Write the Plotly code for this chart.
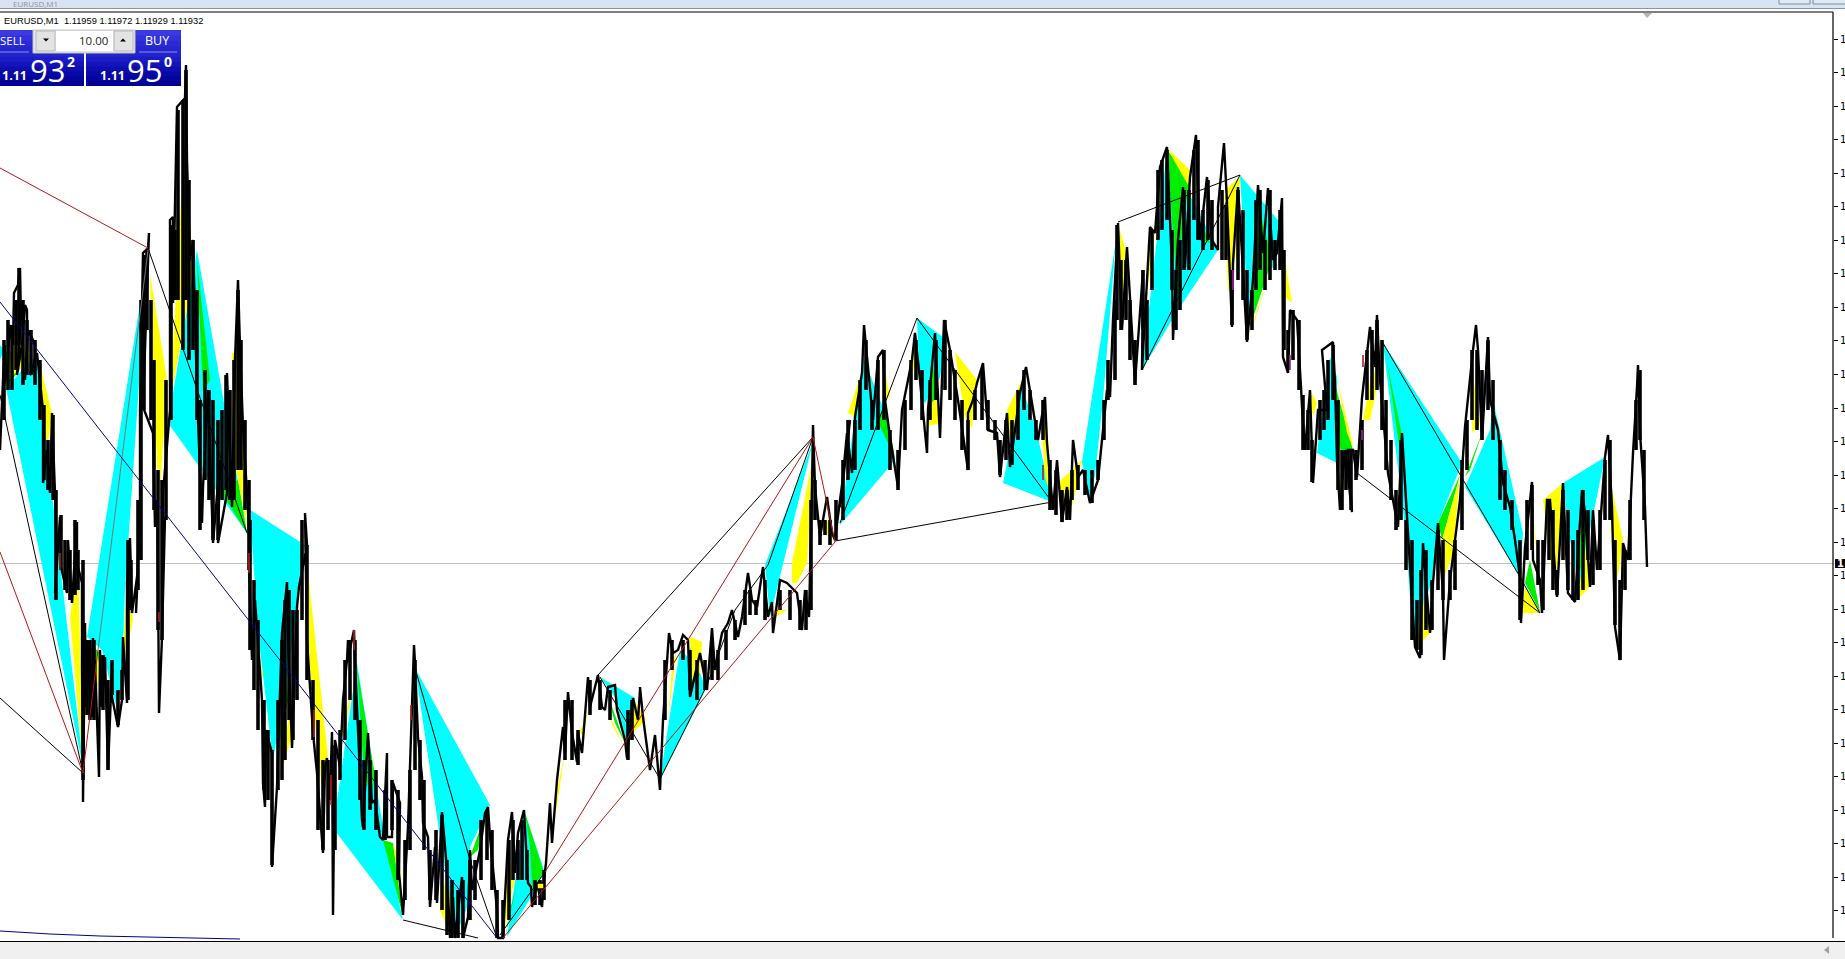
import plotly.graph_objects as go

# Everything in the chart's screen-scale units.
price_path = [
(0,450),(3,380),(5,345),(4,385),(7,370),(10,325),(13,345),(14,293),(18,285),(20,268),(21,320),(17,375),(22,345),(25,305),(27,310),(27,350),(25,380),(28,330),(33,340),(35,345),(35,370),(30,375),(37,353),(43,410),(43,483),(47,450),(50,493),(52,413),(55,493),(57,560),
(55,593),(60,517),(61,567),(67,593),(68,540),(72,603),(77,522),(77,553),(78,567),(82,583),(82,667),(83,773),(83,802),(85,623),(86,707),(88,640),(91,717),(93,638),(93,717),(95,660),(99,777),(100,650),(102,707),(105,657),(108,770),(112,667),(112,697),(118,727),(122,700),(123,637),(127,703),(127,583),(130,538),(132,613),(138,570),(136,613),(140,500),(140,410),(143,253),(148,248),(149,233),(143,407),(153,433),(155,527),(157,500),(158,570),(159,713),(162,637),(165,517),(163,560),(163,493),(170,410),(170,220),(173,217),(173,303),(177,107),(185,98),(186,65),(187,160),(190,260),(193,240),(197,393),(202,523),(203,487),(208,390),(213,543),(220,460),(218,543),(227,493),(227,373),(232,507),(235,360),(238,280),(240,347),(243,427),(248,510),(250,560),
(249,567),(252,660),(255,600),(262,700),(263,783),(265,807),(266,730),(272,753),(272,867),(277,787),(280,693),(282,633),(287,582),(288,633),(292,748),(297,607),(299,587),(307,545),(305,513),(307,640),(310,687),(313,733),(317,773),(323,853),(325,767),(327,758),(330,800),(332,732),(333,915),(335,740),(340,767),(343,700),(347,660),(348,640),
(347,663),(354,630),(355,663),(357,707),(362,820),(363,827),(368,733),(372,803),(375,800),(380,837),(383,840),(387,753),(387,837),(392,837),(393,783),(400,803),(399,873),(403,915),(408,827),(414,645),(415,663),(418,737),(422,777),(423,823),(428,837),(430,907),(435,847),(437,903),(442,812),(447,870),(450,938),(453,897),(455,938),(462,877),(463,938),(468,917),(470,850),(472,890),(480,850),(485,813),(488,807),(490,837),(497,910),(498,938),(503,938),(505,897),(508,840),(512,812),(515,873),(518,833),(524,810),(528,883),(531,887),(532,907),(537,883),(542,907),(544,880),(546,863),(550,803),(552,843),(557,780),(563,727),(565,753),(568,692),(572,733),(577,762),(578,733),(582,753),(588,677),(590,707),(598,675),(602,707),(605,710),(608,687),(615,685),(617,710),(625,740),(627,758),(633,698),(638,720),(640,690),
(640,687),(643,717),(650,770),(655,735),(660,790),(663,720),(669,633),(673,653),(678,650),(683,635),(688,640),(690,697),(700,653),(707,690),(712,628),(715,670),(722,633),(728,623),(732,610),(738,637),(742,617),(748,573),(752,600),(757,607),(763,567),(768,617),(772,602),(773,633),(780,580),(787,583),(797,593),(802,630),(805,590),(809,617),(812,487),(813,425),(815,487),(820,537),(827,497),(832,533),(835,540),(840,500),(845,463),(850,420),
(840,507),(847,433),(852,473),(855,417),(862,373),(864,325),(868,367),(873,420),(878,357),(883,350),(885,400),(890,437),(898,487),(902,410),(912,360),(915,333),(920,380),(927,453),(928,410),(935,333),(940,438),(944,320),(950,350),(958,400),(968,470),(968,413),(973,400),(977,383),(983,363),(988,430),(997,433),(1000,477),(1007,413),(1010,467),(1020,393),(1026,367),(1032,403),(1038,440),(1045,397),(1047,443),(1053,510),(1057,460),(1062,522),(1067,487),(1070,520),(1073,440),(1078,477),(1083,470),(1090,503),(1098,480),(1107,390),
(1110,397),(1113,320),(1118,223),(1122,330),(1127,247),(1135,383),(1143,270),(1142,370),(1150,227),(1155,233),(1160,167),(1167,147),(1172,267),(1173,340),(1178,240),(1183,187),(1185,267),(1190,177),(1196,135),(1200,240),(1207,177),(1212,240),(1218,250),(1218,207),(1224,143),(1227,203),(1232,327),(1233,263),(1238,187),(1243,270),(1247,342),(1253,280),(1258,185),(1263,253),(1268,188),(1273,260),(1277,253),(1282,198),(1283,357),(1288,373),(1290,310),(1297,320),(1301,387),
(1302,407),(1305,450),(1310,390),(1313,483),(1318,410),(1327,410),(1322,350),(1333,342),(1335,383),(1337,460),(1340,510),(1345,450),(1352,512),(1348,450),(1353,450),(1357,477),(1362,398),(1370,327),(1375,367),(1377,315),(1380,380),(1388,473),(1398,527),(1402,433),(1408,533),(1412,600),(1415,647),(1420,658),(1423,543),(1430,633),(1433,583),(1438,523),(1443,593),(1444,660),(1450,580),(1460,500),(1465,427),(1473,350),(1476,325),(1478,350),(1482,440),(1488,337),(1490,400),(1498,430),(1503,483),(1510,507),(1515,540),(1520,577),(1521,623),(1525,547),(1532,482),(1533,560),(1540,580),(1542,613),(1547,500),(1550,500),(1557,597),(1563,483),(1568,593),(1575,602),(1582,490),(1585,513),(1590,587),(1593,510),(1597,570),(1605,457),(1608,435),(1612,507),(1615,627),(1620,660),(1623,543),(1628,560),(1633,453),(1637,387),(1638,365),(1640,433),(1645,507),(1647,567),
]

# Heavy candle clusters: (position, high, low)
candle_sticks = [
(4,340,420),(8,320,390),(12,325,390),(16,300,370),(19,268,345),(23,300,385),(27,320,375),(31,330,375),(35,340,385),(40,360,420),(44,405,480),(48,440,490),(53,415,500),(56,490,600),
(61,515,570),(65,540,590),(70,550,600),(75,520,595),(78,550,590),(83,560,780),(87,640,715),(90,640,720),(94,640,720),(103,655,710),(108,680,770),(112,660,695),(118,690,725),(122,670,700),(128,540,700),(131,560,610),(138,500,590),
(141,300,560),(144,255,410),(147,250,330),(151,300,420),(154,360,510),(158,470,630),(162,480,640),(166,380,520),(171,225,420),(175,230,300),(178,110,300),(183,100,350),(186,70,300),(189,180,360),(193,240,350),
(197,290,420),(200,400,530),(205,370,480),(209,390,500),(213,400,540),(218,420,540),(222,410,500),(226,375,490),(230,390,500),(234,360,500),(238,290,470),(241,340,470),(245,420,510),(249,480,570),
(250,520,650),(254,580,690),(258,620,730),(264,700,790),(268,730,800),(272,750,865),(278,700,790),(282,640,780),(285,600,760),(289,590,720),(293,610,740),(297,610,700),(302,520,620),(307,545,680),(313,680,740),(318,720,830),(323,760,850),(328,760,830),(335,745,850),(340,730,780),(345,660,740),
(350,640,700),(355,640,720),(360,720,800),(364,760,830),(370,760,810),(376,770,830),(385,790,840),(392,780,830),(398,790,880),(405,840,900),(410,770,850),(415,660,770),(420,740,800),(424,780,850),(430,850,900),(436,830,900),(442,815,910),(447,860,935),
(452,880,938),(458,890,938),(463,880,938),(470,860,920),(475,860,900),(481,820,880),(487,810,860),(492,830,890),(497,890,938),(503,900,938),(509,840,920),(513,820,880),(518,840,880),(522,820,880),(527,850,880),(535,880,905),(540,880,905),(544,870,900),
(565,700,760),(572,700,760),(578,730,765),(590,680,715),(600,680,710),(610,690,720),(628,710,760),(632,700,740),(665,660,720),(672,640,670),(683,640,660),(690,650,690),
(697,660,700),(705,660,690),(712,640,680),(718,650,680),(726,630,660),(735,620,640),(745,590,625),(750,590,615),(756,600,615),(765,580,620),(780,590,610),(790,590,620),(800,600,630),(806,590,630),(811,500,610),(815,480,520),(820,520,545),(825,520,535),(830,520,545),(836,500,540),
(843,460,520),(848,420,480),(855,420,470),(860,380,430),(866,340,390),(872,400,430),(878,360,430),(884,350,420),(890,430,470),(898,450,490),(905,400,450),(911,360,410),(916,340,380),(922,370,420),(930,380,420),(936,340,400),(945,320,390),(950,350,400),(955,370,420),(962,400,450),(968,420,470),(975,390,420),(982,370,420),(988,400,430),(995,420,440),(1000,440,475),(1006,420,460),(1012,420,465),(1018,390,440),(1024,370,410),(1030,390,420),(1036,420,440),(1043,400,440),(1050,460,510),(1056,470,515),(1062,490,522),(1067,490,520),(1072,470,500),(1078,465,490),(1085,470,495),(1092,470,503),(1098,460,480),(1104,400,440),(1108,360,400),
(1115,300,380),(1117,225,320),(1121,260,330),(1126,260,320),(1130,300,360),(1135,340,385),(1143,270,330),(1147,300,360),(1152,230,290),(1158,170,240),(1162,160,230),(1167,150,220),(1172,230,290),(1176,270,330),(1180,240,310),(1184,190,270),(1189,190,270),(1194,150,220),(1198,140,240),(1203,210,250),(1208,180,240),(1212,200,250),(1222,190,260),(1226,205,260),(1232,270,325),(1238,190,280),(1243,210,300),(1247,270,340),(1252,290,330),(1256,200,290),(1260,190,270),(1265,240,290),(1270,190,280),(1275,240,270),(1280,210,270),(1284,250,350),(1288,330,370),(1293,310,360),(1299,320,390),
(1303,395,450),(1308,410,450),(1312,440,482),(1320,400,440),(1324,390,430),(1328,360,420),(1333,345,400),(1338,400,490),(1342,450,510),(1346,450,490),(1351,450,510),(1356,450,480),(1362,420,470),(1367,350,400),(1372,330,400),(1377,320,390),(1382,340,430),(1386,400,470),(1391,440,500),(1396,490,530),(1401,440,520),(1406,520,570),(1412,540,640),(1417,600,650),(1421,570,655),(1426,550,630),(1432,580,630),(1438,530,590),(1443,540,600),(1450,570,600),(1455,540,590),(1462,460,530),(1467,420,470),(1472,350,420),(1477,350,430),(1482,370,440),(1488,340,410),(1493,380,440),(1500,440,500),(1505,470,510),(1512,500,530),(1520,540,620),(1527,500,560),(1532,485,550),(1538,540,585),(1543,540,610),(1549,500,560),(1553,510,590),(1557,570,595),(1563,490,560),(1568,510,590),(1573,540,600),(1578,530,600),(1583,490,590),(1588,510,560),(1593,520,585),(1600,510,570),(1605,460,520),(1610,440,520),(1615,540,625),(1620,580,660),(1625,550,590),(1630,500,560),(1636,400,450),(1640,370,440),(1644,450,520),
]

cyan_polys = [
[(0,345),(4,350),(0,360)],
[(6,388),(36,355),(84,772)],
[(87,637),(148,253),(125,590),(122,673),(118,713),(102,650)],
[(168,423),(197,250),(224,403),(247,533)],
[(250,510),(305,545),(290,660),(273,760),(258,633)],
[(333,828),(357,663),(385,840),(403,920)],
[(415,668),(490,805),(470,847),(470,900),(455,938),(440,837)],
[(507,937),(525,813),(544,870),(537,887)],
[(600,677),(635,698),(627,743),(615,697)],
[(660,779),(680,650),(697,665),(706,689)],
[(765,565),(813,442),(770,617)],
[(840,525),(863,357),(888,420),(895,460)],
[(917,318),(947,340),(940,377),(925,403),(920,397)],
[(1003,483),(1022,387),(1037,433),(1052,502)],
[(1082,462),(1116,240),(1103,400),(1095,475),(1090,500)],
[(1142,370),(1167,150),(1218,250),(1178,310)],
[(1240,175),(1282,225),(1273,267),(1253,283),(1248,327),(1245,260)],
[(1317,453),(1330,357),(1337,377),(1337,463)],
[(1383,343),(1462,463),(1438,523),(1432,580),(1413,640),(1405,527)],
[(1465,487),(1490,430),(1493,400),(1523,533),(1520,577)],
[(1563,483),(1605,457),(1588,540),(1580,593),(1570,540)],
]
green_polys = [
[(2,350),(7,387),(28,358)],
[(88,640),(103,657),(98,677)],
[(197,260),(210,380),(203,393)],
[(220,490),(238,480),(247,533)],
[(283,633),(288,700),(280,740)],
[(357,667),(375,777),(370,800),(363,757)],
[(383,840),(403,917),(393,843)],
[(470,857),(488,807),(478,850)],
[(505,938),(517,883),(510,910)],
[(525,813),(544,873),(532,887),(530,847)],
[(607,693),(625,743),(615,723)],
[(690,647),(700,673),(690,690)],
[(878,422),(895,458),(885,403)],
[(933,363),(937,397),(928,407)],
[(1167,150),(1190,177),(1182,230),(1178,300)],
[(1203,227),(1210,243),(1202,240)],
[(1258,202),(1272,260),(1250,327),(1253,283)],
[(1333,377),(1353,450),(1343,460),(1338,440)],
[(1387,363),(1403,440),(1400,450)],
[(1417,643),(1428,587),(1422,627)],
[(1438,523),(1460,475),(1442,540)],
[(1465,477),(1482,433),(1470,470)],
[(1525,583),(1540,612),(1530,560)],
[(1582,518),(1587,540),(1575,593)],
]
yellow_polys = [
[(8,380),(14,325),(25,345),(24,365)],
[(37,353),(52,413),(47,450)],
[(70,617),(78,560),(83,767)],
[(122,670),(133,620),(127,580)],
[(97,653),(103,683),(97,687)],
[(150,273),(167,380),(159,507),(152,350)],
[(170,403),(185,133),(193,273)],
[(232,353),(240,353),(247,527),(233,453)],
[(292,700),(293,732),(277,787)],
[(256,643),(263,673),(258,693)],
[(263,720),(273,757),(268,760)],
[(307,563),(328,757),(322,790),(313,703),(308,643)],
[(338,740),(352,690),(345,730)],
[(393,843),(400,863),(403,915)],
[(420,755),(423,793),(420,775)],
[(440,910),(447,873),(455,938),(448,930)],
[(503,938),(508,857),(515,877),(507,917)],
[(555,818),(565,753),(557,790)],
[(547,860),(552,830),(549,847)],
[(580,732),(588,710),(583,737)],
[(607,710),(623,745),(613,727)],
[(634,700),(646,720),(630,735)],
[(668,720),(677,647),(672,667)],
[(690,637),(702,642),(700,673),(692,680)],
[(712,673),(718,653),(715,673)],
[(792,563),(813,457),(807,563),(797,583),(792,583)],
[(772,610),(787,610),(775,617)],
[(818,527),(835,540),(827,520)],
[(848,413),(860,377),(855,417)],
[(885,372),(890,397),(883,400)],
[(925,427),(940,423),(937,395),(930,407)],
[(908,377),(915,333),(917,360),(912,372)],
[(955,352),(977,380),(972,428),(965,417),(958,373)],
[(983,413),(1000,475),(993,450)],
[(1007,410),(1022,380),(1015,430),(1010,440)],
[(1042,433),(1047,423),(1052,500),(1045,477)],
[(1058,483),(1082,460),(1073,503),(1065,513)],
[(1118,223),(1128,260),(1122,300)],
[(1145,307),(1155,233),(1148,253)],
[(1167,148),(1192,172),(1188,185)],
[(1225,190),(1240,177),(1238,237),(1233,273),(1228,293),(1225,207)],
[(1272,267),(1247,340),(1255,320)],
[(1283,247),(1292,303),(1285,297)],
[(1310,390),(1317,403),(1313,417)],
[(1337,378),(1354,450),(1347,433)],
[(1338,473),(1347,477),(1340,510)],
[(1363,420),(1373,367),(1378,383),(1370,420)],
[(1417,647),(1433,630),(1425,593)],
[(1442,540),(1460,477),(1453,553),(1442,583)],
[(1472,433),(1473,377),(1480,423)],
[(1522,613),(1540,613),(1525,587)],
[(1533,513),(1538,563),(1535,540)],
[(1543,500),(1563,483),(1557,567),(1553,577)],
[(1577,600),(1590,587),(1587,540)],
[(1608,470),(1623,540),(1618,577),(1613,560)],
]
marker_box = [(537,883),(544,883),(544,889),(537,889),(537,883)]
red_lines = [
[(0,168),(148,248)],
[(0,552),(83,773),(98,650)],
[(545,872),(813,437),(835,542)],
[(503,938),(835,542)],
]
gray_lines = [[(98,650),(148,250)]]
black_lines = [
[(0,395),(83,773)],
[(0,698),(83,773)],
[(148,248),(247,533)],
[(415,668),(470,860),(497,938)],
[(403,920),(478,938)],
[(500,935),(545,872)],
[(598,675),(813,437)],
[(600,677),(660,779)],
[(660,779),(707,685),(735,610),(768,565),(813,437)],
[(840,523),(917,318),(1052,502)],
[(835,541),(1052,502)],
[(1118,222),(1240,175)],
[(1142,370),(1240,175)],
[(1357,473),(1540,613)],
[(1383,343),(1520,577),(1540,613)],
]
blue_lines = [
[(0,302),(497,938)],
[(0,931),(50,934),(100,936),(150,937),(240,939)],
]
accent_red = [(60,553,570),(159,612,622),(249,553,573),(314,710,737),(331,775,805),(354,630,650),(411,705,720),(1043,465,480),(1363,355,367)]
accent_magenta = [(1233,270,290),(1362,430,440),(1290,355,370)]
current_price_level = 563.5
tick_levels = [39.3 + 33.52 * i for i in range(27)]
tick_labels = ["1"] * 27
symbol_header = "EURUSD,M1  1.11959 1.11972 1.11929 1.11932"
lot_size = "10.00"


def flat(groups):
    xs, ys = [], []
    for g in groups:
        xs += [p[0] for p in g] + [None]
        ys += [p[1] for p in g] + [None]
    return xs, ys


fig = go.Figure()
for polys, color in [(cyan_polys, "#00ffff"), (green_polys, "#00ee00"), (yellow_polys, "#ffff00")]:
    for poly in polys:
        fig.add_trace(go.Scatter(x=[p[0] for p in poly], y=[p[1] for p in poly], mode="lines",
                                 fill="toself", fillcolor=color, line=dict(width=0), hoverinfo="skip"))

stick_x, stick_y = [], []
for x, hi, lo in candle_sticks:
    stick_x += [x, x, None]
    stick_y += [hi, lo, None]
fig.add_trace(go.Scatter(x=stick_x, y=stick_y, mode="lines", line=dict(color="#000000", width=3.6), hoverinfo="skip"))
fig.add_trace(go.Scatter(x=[p[0] for p in price_path], y=[p[1] for p in price_path], mode="lines",
                         line=dict(color="#000000", width=2.4, simplify=False), hoverinfo="skip"))
fig.add_trace(go.Scatter(x=[p[0] for p in marker_box], y=[p[1] for p in marker_box], mode="lines", fill="toself",
                         fillcolor="#ffff00", line=dict(color="#000000", width=1.5), hoverinfo="skip"))
for segs, color in [(accent_red, "#b02020"), (accent_magenta, "#a020a0")]:
    xs, ys = [], []
    for x, a, b in segs:
        xs += [x, x, None]
        ys += [a, b, None]
    fig.add_trace(go.Scatter(x=xs, y=ys, mode="lines", line=dict(color=color, width=1.6), hoverinfo="skip"))
for groups, color, w in [(black_lines, "#000000", 1), (red_lines, "#b01818", 1),
                         (gray_lines, "#777777", 1), (blue_lines, "#00008b", 1)]:
    xs, ys = flat(groups)
    fig.add_trace(go.Scatter(x=xs, y=ys, mode="lines", line=dict(color=color, width=w), hoverinfo="skip"))

shapes = []


def rect(x0, y0, x1, y1, fill, line=None, layer="above"):
    shapes.append(dict(type="rect", x0=x0, y0=y0, x1=x1, y1=y1, xref="x", yref="y", layer=layer,
                       fillcolor=fill, line=dict(width=1 if line else 0, color=line or fill)))


def hline(x0, x1, y, color, w=1, layer="above"):
    shapes.append(dict(type="line", x0=x0, x1=x1, y0=y, y1=y, xref="x", yref="y", layer=layer,
                       line=dict(color=color, width=w)))


# window chrome
rect(0, 0, 1845, 8, "#d7e4f1")
hline(0, 1845, 8.5, "#8a949e")
rect(1779, -2, 1810, 4, "#dfe9f3", "#7f8c99")
rect(1813, -2, 1847, 4, "#dfe9f3", "#7f8c99")
hline(0, 1833, 12, "#000000", 1.2)
rect(0, 942, 1845, 959, "#f0f0f0")
hline(0, 1845, 941.5, "#000000", 1.2)
shapes.append(dict(type="line", x0=1833, x1=1833, y0=12, y1=938, xref="x", yref="y", layer="above",
                   line=dict(color="#000000", width=1.2)))
hline(0, 1833, current_price_level, "#c0c0c0", 1, layer="below")
rect(1835, 559, 1845, 568, "#000000")
shapes.append(dict(type="path", path="M 1643 13 L 1652 13 L 1647 18 Z", xref="x", yref="y",
                   fillcolor="#b4b4b4", line=dict(width=0), layer="above"))
shapes.append(dict(type="path", path="M 1824 950 L 1829 946 L 1829 954 Z", xref="x", yref="y",
                   fillcolor="#a0a0a0", line=dict(width=0), layer="above"))

# one-click trading panel
top_blues = ["#3a3ae0", "#3232dc", "#2a2ad6", "#2626d0"]
for i, c in enumerate(top_blues):
    y0 = 30 + i * 5.5
    y1 = 52 if i == len(top_blues) - 1 else y0 + 6.5
    rect(0, y0, 33, y1, c)
    rect(135, y0, 181, y1, c)
low_blues = ["#2424cf", "#1c1cc6", "#1414bb", "#0e0eb0", "#0808a6", "#04049c", "#020296"]
for i, c in enumerate(low_blues):
    y0 = 52 + i * 34 / 7
    y1 = 86 if i == len(low_blues) - 1 else y0 + 34 / 7 + 1
    rect(0, y0, 84, y1, c)
    rect(86, y0, 181, y1, c)
rect(33, 30, 135, 53, "#e8e8e8", "#c0c0c0")
rect(56, 31, 113, 51, "#ffffff")
rect(36, 31, 55, 51, "#e3e3e3", "#b8b8b8")
rect(114, 31, 133, 51, "#e3e3e3", "#b8b8b8")
shapes.append(dict(type="path", path="M 43 38.5 L 49 38.5 L 46 41.5 Z", xref="x", yref="y",
                   fillcolor="#000000", line=dict(width=0), layer="above"))
shapes.append(dict(type="path", path="M 120 41.5 L 126 41.5 L 123 38.5 Z", xref="x", yref="y",
                   fillcolor="#000000", line=dict(width=0), layer="above"))
hline(139, 177, 52, "#8c8ce8")
hline(0, 29, 52, "#8c8ce8")


def label(x, y, text, size, color="#ffffff", anchor="center", family="Open Sans", bold=False):
    return dict(x=x, y=y, xref="x", yref="y", text=f"<b>{text}</b>" if bold else text, showarrow=False,
                xanchor=anchor, yanchor="middle", align=anchor,
                font=dict(size=size, color=color, family=family))


annotations = [
    label(2, 20.5, symbol_header, 9.3, "#000000", "left", "Liberation Sans"),
    label(12.5, 40, "SELL", 11.5, "#ffffff", "center", "Open Sans"),
    label(157, 40, "BUY", 12.5, "#ffffff", "center", "Open Sans"),
    label(110, 40, lot_size, 11.5, "#222222", "right", "Open Sans"),
    label(14, 75, "1.11", 12.5, bold=True),
    label(112, 75, "1.11", 12.5, bold=True),
    label(47, 70, "93", 31),
    label(144, 70, "95", 31),
    label(71, 61, "2", 14, bold=True),
    label(168, 61, "0", 14, bold=True),
    label(1840.5, 563.5, "1", 10, "#ffffff", "center", "DejaVu Sans", bold=True),
    label(35, 3.5, "EURUSD,M1", 8, "#8a949e", "center", "Open Sans"),
]

fig.update_layout(
    width=1845, height=959, margin=dict(l=0, r=0, t=0, b=0), paper_bgcolor="#ffffff", plot_bgcolor="#ffffff",
    showlegend=False, shapes=shapes, annotations=annotations,
    xaxis=dict(range=[0, 1845], visible=False, fixedrange=True),
    yaxis=dict(range=[959, 0], anchor="free", position=1833 / 1845, side="right", showgrid=False, zeroline=False,
               showline=False, ticks="outside", ticklen=4, tickwidth=1, tickcolor="#000000",
               tickmode="array", tickvals=tick_levels, ticktext=tick_labels,
               tickfont=dict(size=10, family="DejaVu Sans", color="#000000"), fixedrange=True),
)
fig.write_html("out.html", config={"displayModeBar": False},
               post_script="document.body.style.margin='0';document.documentElement.style.overflow='hidden';")
